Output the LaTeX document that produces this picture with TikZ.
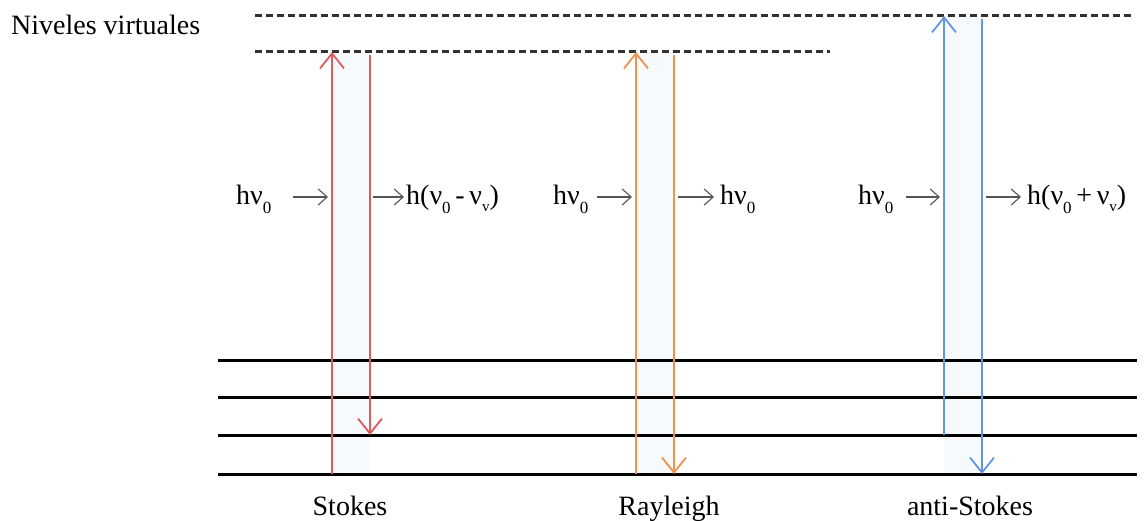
\documentclass[tikz,border=0pt]{standalone}
\usepackage{fontspec}
\setmainfont{Liberation Serif}
\usetikzlibrary{arrows.meta}
\definecolor{cred}{RGB}{218,92,92}
\definecolor{corange}{RGB}{240,146,74}
\definecolor{cblue}{RGB}{98,150,228}
\definecolor{cfill}{RGB}{247,250,253}
\definecolor{cdash}{RGB}{50,50,50}
\definecolor{carr}{RGB}{85,85,85}
\newcommand\lowsub[1]{\raisebox{-9pt}{\fontsize{17}{17}\selectfont #1}}
\newcommand\lowsubv[1]{\raisebox{-7pt}{\fontsize{15}{15}\selectfont #1}}
\begin{document}
\begin{tikzpicture}[x=1pt,y=-1pt,
  lbl/.style={inner sep=0pt,font=\fontsize{28}{32}\selectfont},
  level/.style={line width=3pt,black},
  virt/.style={line width=3pt,cdash,dash pattern=on 7pt off 4pt},
  trans/.style={line width=1.8pt,-{Straight Barb[length=15pt,width=24pt,line width=1.8pt]}},
  photon/.style={line width=1.1pt,carr,-{Straight Barb[length=9pt,width=16pt,line width=1.1pt]}},
  band/.style={fill=cfill,draw=none}]
\useasboundingbox (0,0) rectangle (1144,521);

% virtual levels
\coordinate (v1l) at (255,16); \coordinate (v1r) at (1134,16);
\coordinate (v2l) at (255,52); \coordinate (v2r) at (830,52);
% vibrational levels
\coordinate (L1l) at (218,361); \coordinate (L1r) at (1137,361);
\coordinate (L2l) at (218,398); \coordinate (L2r) at (1137,398);
\coordinate (L3l) at (218,435); \coordinate (L3r) at (1137,435);
\coordinate (L4l) at (218,474); \coordinate (L4r) at (1137,474);

% faint bands between transitions
\fill[band] (332,52) rectangle (370,474);
\fill[band] (636,52) rectangle (674,474);
\fill[band] (944,16) rectangle (982,474);

\draw[virt] (v1l) -- (v1r);
\draw[virt] (v2l) -- (v2r);
\foreach \n in {1,2,3,4} \draw[level] (L\n l) -- (L\n r);

% transition end points
\coordinate (s1) at (332,474); \coordinate (s2) at (332,52);
\coordinate (s3) at (370,55);  \coordinate (s4) at (370,435);
\coordinate (r1) at (636,474); \coordinate (r2) at (636,52);
\coordinate (r3) at (674,55);  \coordinate (r4) at (674,474);
\coordinate (a1) at (944,435); \coordinate (a2) at (944,16);
\coordinate (a3) at (982,19);  \coordinate (a4) at (982,474);

\draw[trans,cred] (s1) -- (s2);
\draw[trans,cred] (s3) -- (s4);
\draw[trans,corange] (r1) -- (r2);
\draw[trans,corange] (r3) -- (r4);
\draw[trans,cblue] (a1) -- (a2);
\draw[trans,cblue] (a3) -- (a4);

% labels
\node[lbl,anchor=base west] (niv) at (11,35) {Niveles virtuales};
\node[lbl,anchor=base] (sto) at (350,515) {Stokes};
\node[lbl,anchor=base] (ray) at (669,515) {Rayleigh};
\node[lbl,anchor=base] (ast) at (970,515) {anti-Stokes};

% Stokes photons
\node[lbl,anchor=base west] (sin) at (236,205) {hν\lowsub{0}};
\node[lbl,anchor=base west] (sout) at (406,205) {h(ν\lowsub{0}\,-\,ν\lowsubv{v})};
\coordinate (sia) at (293,197); \coordinate (sib) at (328,197);
\coordinate (soa) at (373,197); \coordinate (sob) at (404,197);
\draw[photon] (sia) -- (sib);
\draw[photon] (soa) -- (sob);

% Rayleigh photons
\node[lbl,anchor=base west] (rin) at (553,205) {hν\lowsub{0}};
\node[lbl,anchor=base west] (rout) at (720,205) {hν\lowsub{0}};
\coordinate (ria) at (597,197); \coordinate (rib) at (632,197);
\coordinate (roa) at (678,197); \coordinate (rob) at (714,197);
\draw[photon] (ria) -- (rib);
\draw[photon] (roa) -- (rob);

% anti-Stokes photons
\node[lbl,anchor=base west] (ain) at (858,205) {hν\lowsub{0}};
\node[lbl,anchor=base west] (aout) at (1027,205) {h(ν\lowsub{0}\,+\,ν\lowsubv{v})};
\coordinate (aia) at (906,197); \coordinate (aib) at (940,197);
\coordinate (aoa) at (986,197); \coordinate (aob) at (1021,197);
\draw[photon] (aia) -- (aib);
\draw[photon] (aoa) -- (aob);
\end{tikzpicture}
\end{document}
